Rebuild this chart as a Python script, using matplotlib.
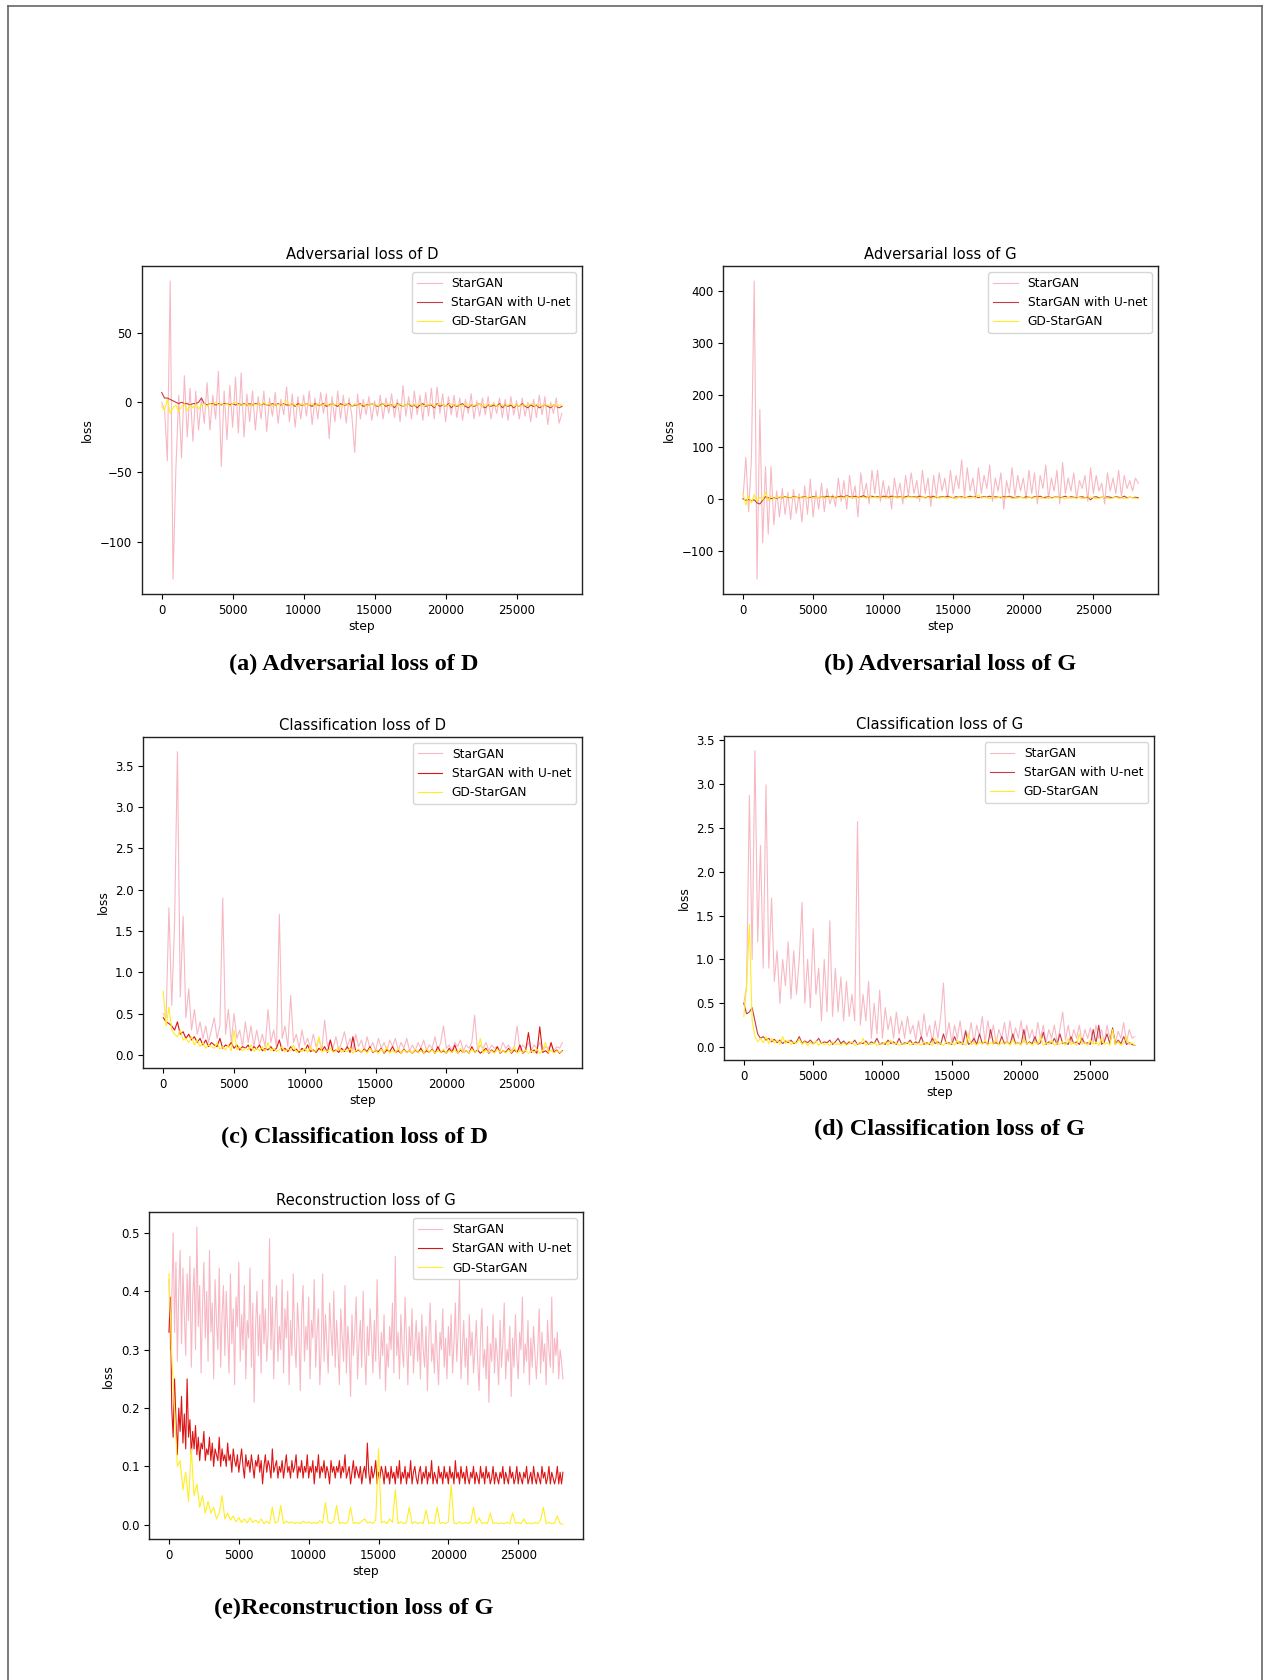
"""
Training curves of StarGAN / StarGAN with U-net / GD-StarGAN,
five loss panels laid out as in the paper figure.
"""

import numpy as np
import matplotlib
matplotlib.use("Agg")
import matplotlib.pyplot as plt
from matplotlib.lines import Line2D

LAST_STEP = 28200
LABELS = ["StarGAN", "StarGAN with U-net", "GD-StarGAN"]

# ---- (a) adversarial loss of D ----
adv_d_stargan = [
    0, -5, -42, 87, -127, -48, 5, -40, 19, -25, 10, -28, 8, -20, 3, -15, 14, -20, 5, -12,
    22, -46, 8, -27, 12, -18, 18, -22, 21, -25, 6, -14, 8, -20, 4, -12, 8, -21, 3, -10,
    7, -15, 2, -9, 11, -14, 6, -18, 4, -12, 5, -10, 8, -16, 3, -12, 7, -8, 6, -26,
    4, -14, 8, -12, 5, -15, 3, -10, -36, 6, -12, 2, -9, 4, -13, 1, -10, 5, -12, 3,
    -8, 6, -11, 2, -14, 12, -10, 4, -12, 8, -9, 5, -13, 7, -10, 10, -12, 11, -8, 6,
    -14, 4, -9, 5, -11, 3, -13, 2, -8, 6, -12, 1, -10, 3, -9, 4, -12, 0, -8, 3,
    -11, 2, -13, 4, -9, 1, -12, 3, -10, 0, -14, 2, -11, 5, -9, 4, -16, 0, -8, 3,
    -15, -8,
]
adv_d_unet = [
    7, 3, 3, 2, 1, 0, -1, 0, -1, -1, -2, -1, -1, 0, 3, -1, -2, -1, -1, -2,
    -1, -2, -1, -1, -2, -1, -2, -1, -2, -1, -2, -1, -2, -1, -1, -2, -1, -2, -2, -1,
    -2, -1, -2, -1, -2, -2, -1, -3, -1, -2, -2, -1, -2, -3, -1, -2, -2, -1, -3, -2,
    -1, -2, -3, -1, -2, -2, -1, -3, -2, -2, -1, -3, -2, -2, -1, -2, -3, -2, -1, -3,
    -2, -2, -4, -1, -2, -3, -2, -1, -3, -2, -4, -2, -1, -3, -2, -2, -4, -1, -3, -2,
    -3, -1, -4, -2, -3, -2, -1, -3, -4, -2, -3, -2, -1, -3, -4, -2, -3, -2, -3, -1,
    -4, -2, -3, -2, -4, -2, -3, -1, -3, -4, -2, -3, -2, -4, -3, -2, -3, -4, -2, -3,
    -4, -3,
]
adv_d_gd = [
    -3, -6, 2, -8, -4, -2, -7, -3, -1, -6, -2, -4, -1, -5, -2, -1, -3, -1, -2, 0,
    -2, -1, -2, -1, -3, -1, 0, -2, -1, -2, -1, -3, -1, -2, -1, -2, 0, -2, -1, -3,
    -1, -2, -1, -2, 1, -2, -1, -2, -3, -1, -2, -1, -2, -1, -3, -1, -2, -2, -1, -3,
    -1, -2, -1, -3, -2, -1, -2, -3, -1, -2, -2, -1, -3, -2, -1, -2, -2, -3, -1, -2,
    -1, -3, -2, -2, -1, -3, -2, -1, -2, -3, -2, -1, -3, -2, -2, -1, -3, -2, -1, -2,
    -3, -2, -1, -3, -2, -2, -3, -1, -2, -3, -2, -2, -1, -3, -2, -3, -2, -1, -3, -2,
    -2, -3, -2, -1, -3, -2, -3, -2, -2, -3, -1, -2, -3, -2, -3, -2, -2, -3, -2, -3,
    -2, -2,
]

# ---- (b) adversarial loss of G ----
adv_g_stargan = [
    0, 80, -25, 78, 420, -155, 172, -85, 62, -68, 62, -50, 15, -35, 20, -30, 12, -40, 18, -28,
    10, -45, 25, -30, 38, -35, 15, -20, 30, -25, 20, -10, 8, -15, 40, -5, 35, -20, 45, 0,
    25, -35, 50, 5, 30, -10, 55, 10, 55, -5, 35, 0, 25, -20, 40, 5, 30, -10, 45, 5,
    50, 10, 35, -5, 55, 10, 40, -15, 45, 5, 50, 15, 40, 0, 55, 10, 45, 20, 75, 5,
    60, 15, 40, 0, 60, 10, 45, 20, 65, -5, 40, 15, 50, -20, 35, 10, 60, 5, 45, 15,
    40, 0, 55, 10, 50, -10, 45, 20, 65, 0, 40, 15, 55, -10, 70, 10, 40, 15, 50, 0,
    35, 20, 45, -5, 60, 10, 45, 15, 30, -10, 50, 15, 40, 10, 55, 5, 45, 20, 35, 15,
    40, 30,
]
adv_g_unet = [
    0, -3, -1, -4, -2, -8, -10, -3, 4, 2, 0, 2, 1, 3, 2, 4, 3, 2, 4, 3,
    2, 3, 4, 2, 3, 4, 3, 2, 4, 3, 5, 3, 4, 2, 4, 5, 3, 6, 4, 3,
    5, 3, 4, 6, 3, 4, 5, 3, 4, 3, 5, 4, 3, 5, 4, 3, 4, 2, 4, 5,
    3, 4, 3, 5, 4, 2, 4, 3, 5, 2, 3, 4, 3, 5, 3, 2, 4, 3, 4, 2,
    3, 5, 3, 4, 2, 3, 4, 3, 5, 2, 4, 3, 2, 4, 3, 5, 3, 2, 4, 3,
    2, 4, 3, 2, 4, 3, 5, 2, 3, 4, 2, 3, 4, 2, 3, 5, 2, 4, 3, 2,
    3, 4, 2, 3, -2, 3, 4, 2, 3, 2, 4, 3, 2, 4, 3, 2, 5, 2, 3, 2,
    3, 2,
]
adv_g_gd = [
    10, -12, 5, -8, 8, -5, 3, -2, 12, -4, 6, 0, 3, 1, 4, 2, 5, 1, 3, 2,
    4, 1, 3, 2, 5, 1, 3, 2, 4, 1, 2, 3, 1, 4, 2, 3, 1, 5, 2, 3,
    1, 4, 2, 3, 1, 6, 2, 3, 1, 4, 2, 3, 1, 2, 4, 1, 3, 2, 1, 4,
    2, 3, 1, 2, 4, 1, 3, 0, 2, 4, 1, 3, 2, 1, 4, 2, 0, 3, 1, 4,
    2, 1, 3, 2, 8, 1, 3, 2, 0, 3, 1, 2, 4, 1, 2, 3, 0, 2, 1, 3,
    2, 0, 4, 1, 2, 3, 1, 2, 0, 3, 1, 2, 4, 1, 2, 0, 3, 1, 2, 1,
    3, 0, 2, 1, 3, 2, 0, 1, 3, 2, 1, 0, 2, 3, 1, 2, 0, 1, 3, 2,
    1, 0,
]

# ---- (c) classification loss of D ----
cls_d_stargan = [
    0.5, 0.45, 1.78, 0.6, 1.6, 3.67, 0.7, 1.68, 0.45, 0.8, 0.3, 0.55, 0.25, 0.4, 0.2, 0.35, 0.15, 0.3, 0.45, 0.2,
    0.35, 1.9, 0.25, 0.55, 0.15, 0.5, 0.2, 0.3, 0.1, 0.4, 0.15, 0.35, 0.1, 0.3, 0.12, 0.25, 0.1, 0.55, 0.15, 0.3,
    0.1, 1.7, 0.2, 0.35, 0.1, 0.72, 0.15, 0.25, 0.08, 0.3, 0.12, 0.2, 0.08, 0.25, 0.1, 0.2, 0.05, 0.42, 0.1, 0.18,
    0.08, 0.22, 0.05, 0.15, 0.28, 0.1, 0.2, 0.05, 0.25, 0.1, 0.18, 0.05, 0.22, 0.08, 0.15, 0.05, 0.2, 0.08, 0.15, 0.05,
    0.18, 0.1, 0.2, 0.05, 0.15, 0.08, 0.2, 0.05, 0.12, 0.05, 0.15, 0.08, 0.18, 0.05, 0.12, 0.08, 0.22, 0.05, 0.15, 0.35,
    0.08, 0.12, 0.05, 0.15, 0.1, 0.18, 0.05, 0.12, 0.08, 0.15, 0.48, 0.05, 0.12, 0.08, 0.15, 0.05, 0.12, 0.08, 0.1, 0.05,
    0.15, 0.08, 0.12, 0.05, 0.1, 0.35, 0.05, 0.12, 0.08, 0.15, 0.05, 0.12, 0.08, 0.15, 0.05, 0.1, 0.08, 0.12, 0.05, 0.1,
    0.08, 0.15,
]
cls_d_unet = [
    0.45, 0.4, 0.38, 0.35, 0.3, 0.4, 0.25, 0.28, 0.2, 0.25, 0.18, 0.22, 0.15, 0.2, 0.12, 0.18, 0.1, 0.15, 0.12, 0.1,
    0.2, 0.08, 0.12, 0.1, 0.15, 0.08, 0.12, 0.06, 0.1, 0.08, 0.12, 0.05, 0.1, 0.07, 0.12, 0.05, 0.08, 0.06, 0.1, 0.05,
    0.08, 0.18, 0.05, 0.08, 0.04, 0.1, 0.05, 0.07, 0.03, 0.08, 0.05, 0.12, 0.04, 0.06, 0.03, 0.08, 0.05, 0.1, 0.03, 0.18,
    0.04, 0.06, 0.03, 0.08, 0.04, 0.1, 0.03, 0.22, 0.04, 0.06, 0.03, 0.07, 0.04, 0.1, 0.03, 0.05, 0.04, 0.08, 0.02, 0.06,
    0.04, 0.1, 0.03, 0.05, 0.02, 0.07, 0.03, 0.05, 0.02, 0.06, 0.03, 0.08, 0.02, 0.05, 0.03, 0.07, 0.02, 0.1, 0.03, 0.05,
    0.02, 0.08, 0.03, 0.12, 0.02, 0.06, 0.03, 0.05, 0.02, 0.1, 0.03, 0.06, 0.02, 0.05, 0.08, 0.02, 0.06, 0.03, 0.1, 0.02,
    0.05, 0.03, 0.08, 0.02, 0.06, 0.03, 0.12, 0.02, 0.05, 0.27, 0.03, 0.06, 0.02, 0.34, 0.03, 0.05, 0.02, 0.15, 0.03, 0.06,
    0.02, 0.05,
]
cls_d_gd = [
    0.77, 0.35, 0.58, 0.3, 0.25, 0.22, 0.3, 0.18, 0.2, 0.15, 0.22, 0.12, 0.18, 0.1, 0.15, 0.08, 0.12, 0.1, 0.08, 0.15,
    0.07, 0.1, 0.06, 0.12, 0.05, 0.3, 0.06, 0.1, 0.05, 0.08, 0.06, 0.12, 0.04, 0.08, 0.05, 0.1, 0.04, 0.15, 0.05, 0.08,
    0.04, 0.06, 0.1, 0.04, 0.07, 0.05, 0.12, 0.03, 0.06, 0.04, 0.08, 0.03, 0.1, 0.04, 0.05, 0.22, 0.03, 0.06, 0.04, 0.08,
    0.03, 0.05, 0.1, 0.03, 0.06, 0.04, 0.08, 0.02, 0.05, 0.07, 0.03, 0.06, 0.02, 0.08, 0.04, 0.05, 0.02, 0.07, 0.03, 0.1,
    0.02, 0.05, 0.03, 0.08, 0.02, 0.06, 0.03, 0.05, 0.02, 0.07, 0.03, 0.05, 0.02, 0.08, 0.03, 0.06, 0.02, 0.05, 0.03, 0.07,
    0.02, 0.05, 0.03, 0.06, 0.02, 0.08, 0.03, 0.05, 0.02, 0.07, 0.03, 0.05, 0.2, 0.02, 0.06, 0.03, 0.05, 0.02, 0.07, 0.03,
    0.05, 0.02, 0.06, 0.03, 0.1, 0.02, 0.05, 0.03, 0.06, 0.02, 0.05, 0.03, 0.07, 0.02, 0.05, 0.15, 0.03, 0.06, 0.02, 0.05,
    0.03, 0.04,
]

# ---- (d) classification loss of G ----
cls_g_stargan = [
    0.5, 0.7, 2.87, 1.0, 3.38, 1.2, 2.3, 0.9, 2.99, 0.9, 1.7, 0.75, 1.1, 0.5, 1.0, 0.7, 1.2, 0.55, 1.1, 0.6,
    1.0, 1.65, 0.5, 1.0, 0.45, 1.35, 0.6, 0.9, 0.3, 1.0, 0.4, 1.44, 0.35, 0.9, 0.4, 0.8, 0.3, 0.75, 0.35, 0.6,
    0.3, 2.57, 0.25, 0.6, 0.3, 0.75, 0.1, 0.5, 0.15, 0.65, 0.1, 0.45, 0.2, 0.35, 0.1, 0.4, 0.15, 0.3, 0.1, 0.35,
    0.15, 0.25, 0.08, 0.3, 0.1, 0.38, 0.12, 0.25, 0.05, 0.3, 0.1, 0.35, 0.73, 0.1, 0.28, 0.05, 0.25, 0.1, 0.3, 0.05,
    0.2, 0.1, 0.28, 0.05, 0.25, 0.12, 0.35, 0.05, 0.3, 0.1, 0.25, 0.05, 0.2, 0.1, 0.28, 0.05, 0.3, 0.08, 0.22, 0.1,
    0.3, 0.05, 0.25, 0.1, 0.2, 0.05, 0.28, 0.1, 0.25, 0.05, 0.2, 0.1, 0.25, 0.05, 0.2, 0.4, 0.08, 0.25, 0.05, 0.2,
    0.1, 0.25, 0.05, 0.2, 0.1, 0.22, 0.05, 0.25, 0.1, 0.2, 0.05, 0.25, 0.1, 0.2, 0.05, 0.18, 0.1, 0.28, 0.05, 0.2,
    0.1, 0.12,
]
cls_g_unet = [
    0.5, 0.38, 0.4, 0.45, 0.3, 0.15, 0.1, 0.12, 0.08, 0.1, 0.06, 0.09, 0.05, 0.08, 0.04, 0.07, 0.05, 0.08, 0.04, 0.06,
    0.12, 0.04, 0.07, 0.05, 0.08, 0.04, 0.06, 0.1, 0.04, 0.06, 0.05, 0.08, 0.03, 0.06, 0.1, 0.04, 0.07, 0.03, 0.06, 0.04,
    0.08, 0.03, 0.05, 0.04, 0.07, 0.03, 0.06, 0.04, 0.1, 0.03, 0.05, 0.03, 0.08, 0.04, 0.06, 0.03, 0.1, 0.03, 0.05, 0.04,
    0.08, 0.03, 0.06, 0.04, 0.12, 0.03, 0.05, 0.03, 0.1, 0.04, 0.06, 0.03, 0.15, 0.04, 0.05, 0.03, 0.12, 0.04, 0.06, 0.03,
    0.18, 0.03, 0.05, 0.1, 0.03, 0.15, 0.04, 0.06, 0.03, 0.2, 0.04, 0.05, 0.03, 0.12, 0.04, 0.06, 0.03, 0.15, 0.04, 0.05,
    0.03, 0.2, 0.03, 0.06, 0.04, 0.12, 0.03, 0.05, 0.17, 0.03, 0.06, 0.04, 0.1, 0.03, 0.15, 0.04, 0.05, 0.03, 0.12, 0.04,
    0.06, 0.03, 0.1, 0.04, 0.05, 0.03, 0.2, 0.04, 0.25, 0.03, 0.06, 0.15, 0.04, 0.22, 0.03, 0.08, 0.04, 0.12, 0.03, 0.05,
    0.03, 0.02,
]
cls_g_gd = [
    0.35, 0.7, 1.4, 0.3, 0.12, 0.06, 0.1, 0.05, 0.12, 0.04, 0.1, 0.05, 0.08, 0.03, 0.12, 0.04, 0.08, 0.03, 0.06, 0.04,
    0.09, 0.03, 0.06, 0.02, 0.05, 0.03, 0.07, 0.02, 0.05, 0.03, 0.04, 0.02, 0.06, 0.03, 0.04, 0.02, 0.05, 0.02, 0.04, 0.06,
    0.02, 0.04, 0.03, 0.1, 0.02, 0.04, 0.03, 0.05, 0.02, 0.04, 0.03, 0.06, 0.02, 0.08, 0.03, 0.05, 0.02, 0.04, 0.03, 0.06,
    0.02, 0.05, 0.03, 0.04, 0.02, 0.06, 0.03, 0.05, 0.02, 0.1, 0.03, 0.04, 0.02, 0.06, 0.03, 0.05, 0.02, 0.08, 0.03, 0.05,
    0.02, 0.15, 0.03, 0.05, 0.02, 0.06, 0.03, 0.08, 0.02, 0.05, 0.03, 0.1, 0.02, 0.05, 0.03, 0.06, 0.02, 0.08, 0.03, 0.05,
    0.02, 0.1, 0.03, 0.05, 0.02, 0.06, 0.03, 0.12, 0.02, 0.05, 0.03, 0.08, 0.02, 0.05, 0.03, 0.06, 0.02, 0.1, 0.03, 0.05,
    0.02, 0.15, 0.03, 0.05, 0.02, 0.08, 0.03, 0.06, 0.02, 0.1, 0.03, 0.05, 0.02, 0.2, 0.03, 0.06, 0.02, 0.05, 0.12, 0.03,
    0.05, 0.02,
]

# ---- (e) reconstruction loss of G (logged twice as often) ----
rec_g_stargan = [
    0.42, 0.3, 0.38, 0.5, 0.33, 0.45, 0.28, 0.4, 0.47, 0.31, 0.44, 0.36, 0.29, 0.43, 0.35, 0.46, 0.27, 0.39, 0.44, 0.3,
    0.51, 0.34, 0.41, 0.26, 0.37, 0.45, 0.32, 0.4, 0.28, 0.47, 0.33, 0.38, 0.25, 0.42, 0.35, 0.3, 0.44, 0.27, 0.36, 0.41,
    0.29, 0.4, 0.33, 0.26, 0.43, 0.31, 0.37, 0.24, 0.39, 0.34, 0.45, 0.28, 0.36, 0.3, 0.41, 0.25, 0.35, 0.32, 0.44, 0.27,
    0.38, 0.21, 0.34, 0.4, 0.29, 0.36, 0.26, 0.42, 0.31, 0.37, 0.28, 0.33, 0.49, 0.3, 0.39, 0.25, 0.35, 0.41, 0.28, 0.34,
    0.3, 0.42, 0.26, 0.37, 0.32, 0.4, 0.24, 0.35, 0.29, 0.43, 0.31, 0.27, 0.38, 0.33, 0.23, 0.36, 0.41, 0.28, 0.34, 0.3,
    0.39, 0.25, 0.35, 0.32, 0.42, 0.27, 0.33, 0.37, 0.24, 0.3, 0.43, 0.28, 0.36, 0.31, 0.26, 0.38, 0.33, 0.29, 0.4, 0.27,
    0.35, 0.3, 0.24, 0.37, 0.32, 0.28, 0.41, 0.26, 0.34, 0.3, 0.22, 0.36, 0.29, 0.33, 0.39, 0.25, 0.31, 0.35, 0.27, 0.4,
    0.3, 0.24, 0.34, 0.29, 0.37, 0.32, 0.26, 0.35, 0.28, 0.42, 0.3, 0.25, 0.33, 0.29, 0.36, 0.23, 0.31, 0.27, 0.34, 0.3,
    0.38, 0.26, 0.46, 0.29, 0.33, 0.25, 0.36, 0.3, 0.27, 0.39, 0.32, 0.24, 0.34, 0.29, 0.37, 0.26, 0.31, 0.35, 0.28, 0.33,
    0.25, 0.36, 0.3, 0.27, 0.34, 0.23, 0.32, 0.38, 0.28, 0.31, 0.26, 0.35, 0.29, 0.24, 0.33, 0.3, 0.37, 0.27, 0.32, 0.25,
    0.34, 0.29, 0.36, 0.26, 0.31, 0.38, 0.28, 0.33, 0.42, 0.25, 0.3, 0.35, 0.27, 0.32, 0.24, 0.36, 0.29, 0.33, 0.26, 0.3,
    0.35, 0.28, 0.23, 0.32, 0.37, 0.27, 0.3, 0.25, 0.34, 0.21, 0.31, 0.28, 0.36, 0.26, 0.32, 0.29, 0.24, 0.35, 0.27, 0.31,
    0.38, 0.25, 0.3, 0.28, 0.34, 0.22, 0.32, 0.27, 0.36, 0.29, 0.25, 0.33, 0.3, 0.39, 0.26, 0.31, 0.28, 0.35, 0.24, 0.32,
    0.27, 0.34, 0.29, 0.25, 0.3, 0.37, 0.26, 0.33, 0.28, 0.31, 0.24, 0.35, 0.3, 0.27, 0.39, 0.26, 0.32, 0.29, 0.33, 0.25,
    0.3, 0.28, 0.25,
]
rec_g_unet = [
    0.33, 0.39, 0.2, 0.15, 0.25, 0.18, 0.12, 0.2, 0.16, 0.22, 0.14, 0.19, 0.13, 0.25, 0.15, 0.18, 0.12, 0.16, 0.13, 0.17,
    0.12, 0.15, 0.11, 0.14, 0.13, 0.16, 0.11, 0.13, 0.12, 0.15, 0.11, 0.14, 0.1, 0.13, 0.12, 0.11, 0.15, 0.1, 0.13, 0.11,
    0.12, 0.1, 0.14, 0.11, 0.12, 0.09, 0.13, 0.11, 0.1, 0.12, 0.09, 0.11, 0.13, 0.1, 0.08, 0.12, 0.1, 0.11, 0.09, 0.12,
    0.1, 0.08, 0.11, 0.1, 0.12, 0.09, 0.11, 0.07, 0.1, 0.12, 0.09, 0.11, 0.1, 0.08, 0.13, 0.09, 0.1, 0.11, 0.08, 0.1,
    0.09, 0.11, 0.08, 0.1, 0.12, 0.09, 0.1, 0.08, 0.11, 0.09, 0.1, 0.12, 0.08, 0.1, 0.09, 0.11, 0.08, 0.1, 0.09, 0.12,
    0.08, 0.1, 0.09, 0.11, 0.07, 0.1, 0.09, 0.12, 0.08, 0.1, 0.09, 0.11, 0.08, 0.1, 0.09, 0.07, 0.11, 0.09, 0.1, 0.08,
    0.1, 0.09, 0.11, 0.08, 0.1, 0.09, 0.12, 0.08, 0.09, 0.1, 0.07, 0.09, 0.11, 0.08, 0.1, 0.09, 0.08, 0.1, 0.07, 0.09,
    0.1, 0.08, 0.14, 0.09, 0.07, 0.1, 0.08, 0.09, 0.11, 0.07, 0.09, 0.08, 0.1, 0.09, 0.07, 0.1, 0.08, 0.09, 0.07, 0.1,
    0.08, 0.09, 0.07, 0.1, 0.08, 0.11, 0.07, 0.09, 0.08, 0.1, 0.07, 0.09, 0.08, 0.11, 0.07, 0.09, 0.1, 0.08, 0.07, 0.09,
    0.1, 0.07, 0.09, 0.08, 0.1, 0.07, 0.09, 0.08, 0.11, 0.07, 0.09, 0.08, 0.07, 0.1, 0.08, 0.09, 0.07, 0.1, 0.08, 0.09,
    0.07, 0.1, 0.08, 0.09, 0.07, 0.11, 0.08, 0.09, 0.07, 0.1, 0.08, 0.09, 0.07, 0.1, 0.08, 0.07, 0.09, 0.08, 0.1, 0.07,
    0.09, 0.08, 0.07, 0.1, 0.08, 0.09, 0.07, 0.1, 0.08, 0.09, 0.07, 0.08, 0.1, 0.07, 0.09, 0.08, 0.07, 0.09, 0.08, 0.1,
    0.07, 0.09, 0.08, 0.07, 0.1, 0.08, 0.09, 0.07, 0.08, 0.1, 0.07, 0.09, 0.08, 0.07, 0.09, 0.08, 0.1, 0.07, 0.08, 0.09,
    0.07, 0.1, 0.08, 0.07, 0.09, 0.08, 0.07, 0.1, 0.08, 0.09, 0.07, 0.08, 0.1, 0.07, 0.09, 0.08, 0.07, 0.08, 0.1, 0.07,
    0.09, 0.07, 0.09,
]
rec_g_gd = [
    0.43, 0.29, 0.2, 0.1, 0.11, 0.06, 0.09, 0.04, 0.13, 0.05, 0.07, 0.03, 0.05, 0.02, 0.04, 0.02, 0.03, 0.01, 0.02, 0.05,
    0.01, 0.02, 0.008, 0.015, 0.005, 0.012, 0.004, 0.01, 0.003, 0.012, 0.004, 0.008, 0.003, 0.01, 0.002, 0.006, 0.002, 0.03, 0.003, 0.005,
    0.033, 0.002, 0.006, 0.003, 0.005, 0.002, 0.004, 0.002, 0.006, 0.003, 0.005, 0.002, 0.004, 0.002, 0.007, 0.003, 0.038, 0.004, 0.002, 0.006,
    0.033, 0.002, 0.004, 0.002, 0.005, 0.03, 0.002, 0.004, 0.002, 0.006, 0.01, 0.003, 0.005, 0.002, 0.008, 0.13, 0.003, 0.006, 0.002, 0.01,
    0.004, 0.06, 0.002, 0.005, 0.002, 0.004, 0.03, 0.002, 0.005, 0.002, 0.004, 0.002, 0.025, 0.002, 0.004, 0.002, 0.03, 0.002, 0.004, 0.002,
    0.005, 0.068, 0.003, 0.002, 0.005, 0.002, 0.004, 0.002, 0.005, 0.03, 0.002, 0.012, 0.002, 0.004, 0.002, 0.02, 0.002, 0.004, 0.002, 0.003,
    0.002, 0.004, 0.002, 0.02, 0.002, 0.004, 0.002, 0.01, 0.002, 0.003, 0.002, 0.004, 0.002, 0.008, 0.03, 0.002, 0.004, 0.002, 0.003, 0.015,
    0.002, 0.001,
]

PINK = "#f7b8c4"
YELLOW = "#ffee22"
RED_DARK = "#c83a46"
RED = "#dd1414"

plt.rcParams["font.family"] = "DejaVu Sans"
fig = plt.figure(figsize=(12.66, 16.8), dpi=100)

# page frame (scanned page border)
for xs, ys in [([8, 8], [0, 1674]), ([1262, 1262], [0, 1674]), ([8, 1262], [1674, 1674])]:
    fig.add_artist(Line2D(np.array(xs) / 1266, np.array(ys) / 1680,
                          transform=fig.transFigure, color="#666666", lw=1.2))


def draw_panel(rect, title, series, unet_color, caption, cap_xy):
    ax = fig.add_axes(rect)
    colors = [PINK, unet_color, YELLOW]
    for y, c, lab in zip(series, colors, LABELS):
        x = np.linspace(0, LAST_STEP, len(y))
        ax.plot(x, y, color=c, lw=0.8, label=lab)
    ax.set_title(title, fontsize=10.6, pad=5)
    ax.set_xlabel("step", fontsize=8.8, labelpad=2)
    ax.set_ylabel("loss", fontsize=8.8)
    ax.set_xticks([0, 5000, 10000, 15000, 20000, 25000])
    ax.tick_params(labelsize=8.5, length=3.5, width=0.8)
    for s in ax.spines.values():
        s.set_linewidth(1.0)
        s.set_color("#222222")
    ax.legend(loc="upper right", fontsize=8.8, framealpha=0.8, edgecolor="#cccccc")
    fig.text(cap_xy[0] / 1266, 1 - cap_xy[1] / 1680, caption,
             ha="center", va="center", fontsize=17.5, fontweight="bold",
             family="Liberation Serif")
    return ax


draw_panel([0.1119, 0.6464, 0.3478, 0.1952], "Adversarial loss of D",
           [adv_d_stargan, adv_d_unet, adv_d_gd], RED_DARK,
           "(a) Adversarial loss of D", (354, 664))
draw_panel([0.5713, 0.6464, 0.3434, 0.1952], "Adversarial loss of G",
           [adv_g_stargan, adv_g_unet, adv_g_gd], RED_DARK,
           "(b) Adversarial loss of G", (950, 664))
draw_panel([0.1132, 0.3641, 0.3468, 0.1974], "Classification loss of D",
           [cls_d_stargan, cls_d_unet, cls_d_gd], RED,
           "(c) Classification loss of D", (354, 1137))
draw_panel([0.5721, 0.3690, 0.3397, 0.1929], "Classification loss of G",
           [cls_g_stargan, cls_g_unet, cls_g_gd], RED_DARK,
           "(d) Classification loss of G", (949, 1129))
draw_panel([0.1179, 0.0839, 0.3423, 0.1945], "Reconstruction loss of G",
           [rec_g_stargan, rec_g_unet, rec_g_gd], RED,
           "(e)Reconstruction loss of G", (354, 1608))

fig.savefig("out.png", dpi=100)
